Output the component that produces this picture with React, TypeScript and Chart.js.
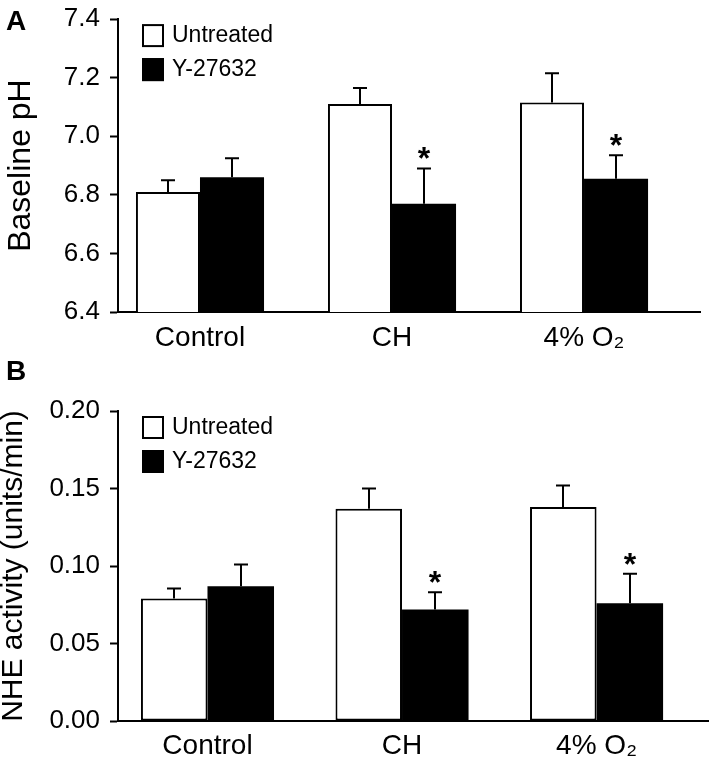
import React, { useEffect, useRef } from "react";
import { Chart, registerables } from "chart.js";

Chart.register(...registerables);

// ---------- data ----------
const categories = ["Control", "CH", "4% O\u2082"];
const seriesLabels = ["Untreated", "Y-27632"];

const phUntreated = [6.81, 7.11, 7.115];
const phUntreatedErr = [0.04, 0.055, 0.1];
const phY27632 = [6.86, 6.77, 6.855];
const phY27632Err = [0.065, 0.12, 0.08];
const phSignificant = [false, true, true];

const nheUntreated = [0.079, 0.137, 0.138];
const nheUntreatedErr = [0.0065, 0.013, 0.014];
const nheY27632 = [0.087, 0.072, 0.076];
const nheY27632Err = [0.014, 0.011, 0.019];
const nheSignificant = [false, true, true];

const FONT = "'Liberation Sans', Arial, Helvetica, sans-serif";

type PanelParams = {
  letter: string;
  untreated: number[];
  untreatedErr: number[];
  treated: number[];
  treatedErr: number[];
  significant: boolean[];
  yMin: number;
  yMax: number;
  yStep: number;
  decimals: number;
  yTitle: string;
  yTitleSize: number;
  yTitleLineHeight: number;
  yTitlePad: number;
  xMin: number;
  xMax: number;
  catPct: number;
  xHeight: number;
  xPad: number;
  padTop: number;
  padRight: number;
};

function makePlugin(p: PanelParams) {
  return {
    id: "panelDecor" + p.letter,
    afterDatasetsDraw(chart: any) {
      const ctx: CanvasRenderingContext2D = chart.ctx;
      const yScale = chart.scales.y;
      const errs = [p.untreatedErr, p.treatedErr];
      ctx.save();
      ctx.strokeStyle = "#000";
      ctx.fillStyle = "#000";
      ctx.lineWidth = 2;
      errs.forEach((errArr, di) => {
        const meta = chart.getDatasetMeta(di);
        const vals = chart.data.datasets[di].data as any[];
        meta.data.forEach((bar: any, i: number) => {
          const v = vals[i].y;
          const top = yScale.getPixelForValue(v + errArr[i]);
          const x = Math.round(bar.x);
          ctx.beginPath();
          ctx.moveTo(x, bar.y);
          ctx.lineTo(x, top);
          ctx.moveTo(x - 7, top);
          ctx.lineTo(x + 7, top);
          ctx.stroke();
          if (di === 1 && p.significant[i]) {
            ctx.font = `bold 32px ${FONT}`;
            ctx.textAlign = "center";
            ctx.textBaseline = "alphabetic";
            ctx.fillText("*", x, top + 1);
          }
        });
      });

      // legend inside chart area
      const area = chart.chartArea;
      const bx = area.left + 24;
      let by = area.top + 5;
      chart.data.datasets.forEach((ds: any) => {
        ctx.fillStyle = ds.backgroundColor;
        ctx.fillRect(bx, by, 22, 23);
        ctx.strokeStyle = "#000";
        ctx.lineWidth = 2;
        ctx.strokeRect(bx + 1, by + 1, 20, 21);
        ctx.fillStyle = "#000";
        ctx.font = `23px ${FONT}`;
        ctx.textAlign = "left";
        ctx.textBaseline = "middle";
        ctx.fillText(ds.label, bx + 30, by + 12);
        by += 34;
      });

      // panel letter
      ctx.fillStyle = "#000";
      ctx.font = `bold 28px ${FONT}`;
      ctx.textAlign = "left";
      ctx.textBaseline = "alphabetic";
      ctx.fillText(p.letter, 6, 30);
      ctx.restore();
    },
  };
}

function buildConfig(p: PanelParams): any {
  const toPts = (arr: number[]) => arr.map((v, i) => ({ x: i + 1, y: v }));
  return {
    type: "bar",
    data: {
      datasets: [
        {
          label: seriesLabels[0],
          data: toPts(p.untreated),
          backgroundColor: "#ffffff",
          borderColor: "#000000",
          borderWidth: 2,
          borderSkipped: false,
        },
        {
          label: seriesLabels[1],
          data: toPts(p.treated),
          backgroundColor: "#000000",
          borderColor: "#000000",
          borderWidth: 0,
        },
      ],
    },
    options: {
      animation: false,
      responsive: false,
      devicePixelRatio: 1,
      events: [],
      layout: { padding: { top: p.padTop, right: p.padRight, left: 0, bottom: 0 } },
      datasets: {
        bar: { barPercentage: 1, categoryPercentage: p.catPct },
      },
      plugins: {
        legend: { display: false },
        tooltip: { enabled: false },
      },
      scales: {
        x: {
          type: "linear",
          offset: false,
          min: p.xMin,
          max: p.xMax,
          grid: { display: false, drawTicks: false },
          border: { display: true, color: "#000", width: 2 },
          ticks: {
            stepSize: 1,
            includeBounds: false,
            autoSkip: false,
            maxRotation: 0,
            padding: p.xPad,
            color: "#000",
            font: { family: FONT, size: 28 },
            callback: (v: number) => (Number.isInteger(v) ? categories[v - 1] ?? "" : ""),
          },
          afterFit: (s: any) => {
            s.height = p.xHeight;
          },
        },
        y: {
          min: p.yMin,
          max: p.yMax,
          grid: {
            display: true,
            drawOnChartArea: false,
            drawTicks: true,
            tickLength: 8,
            tickWidth: 2,
            tickColor: "#000",
            color: "#000",
          },
          border: { display: true, color: "#000", width: 2 },
          ticks: {
            stepSize: p.yStep,
            padding: 10,
            color: "#000",
            font: { family: FONT, size: 26, lineHeight: 0.7 },
            callback: (v: number) => Number(v).toFixed(p.decimals),
          },
          title: {
            display: true,
            text: p.yTitle,
            color: "#000",
            font: { family: FONT, size: p.yTitleSize, lineHeight: p.yTitleLineHeight },
            padding: { top: p.yTitlePad, bottom: 0 },
          },
          afterFit: (s: any) => {
            s.width = 118;
          },
        },
      },
    },
    plugins: [makePlugin(p)],
  };
}

const panelA: PanelParams = {
  letter: "A",
  untreated: phUntreated,
  untreatedErr: phUntreatedErr,
  treated: phY27632,
  treatedErr: phY27632Err,
  significant: phSignificant,
  yMin: 6.4,
  yMax: 7.4,
  yStep: 0.2,
  decimals: 1,
  yTitle: "Baseline pH",
  yTitleSize: 32,
  yTitleLineHeight: 1.2,
  yTitlePad: 2,
  xMin: 0.573,
  xMax: 3.604,
  catPct: 0.667,
  xHeight: 38,
  xPad: 9,
  padTop: 10,
  padRight: 9,
};

const panelB: PanelParams = {
  letter: "B",
  untreated: nheUntreated,
  untreatedErr: nheUntreatedErr,
  treated: nheY27632,
  treatedErr: nheY27632Err,
  significant: nheSignificant,
  yMin: 0,
  yMax: 0.2,
  yStep: 0.05,
  decimals: 2,
  yTitle: "NHE activity (units/min)",
  yTitleSize: 30,
  yTitleLineHeight: 0.9,
  yTitlePad: 0,
  xMin: 0.54,
  xMax: 3.578,
  catPct: 0.684,
  xHeight: 41,
  xPad: 8,
  padTop: 61,
  padRight: 0,
};

export default function App() {
  const refA = useRef<HTMLCanvasElement>(null);
  const refB = useRef<HTMLCanvasElement>(null);

  useEffect(() => {
    Chart.defaults.color = "#000";
    Chart.defaults.font.family = FONT;
    const a = new Chart(refA.current as HTMLCanvasElement, buildConfig(panelA));
    const b = new Chart(refB.current as HTMLCanvasElement, buildConfig(panelB));
    return () => {
      a.destroy();
      b.destroy();
    };
  }, []);

  return (
    <div style={{ position: "absolute", left: 0, top: 0, width: 709, height: 762, background: "#fff" }}>
      <canvas
        ref={refA}
        width={709}
        height={350}
        style={{ position: "absolute", left: 0, top: 0, width: 709, height: 350 }}
      />
      <canvas
        ref={refB}
        width={709}
        height={412}
        style={{ position: "absolute", left: 0, top: 350, width: 709, height: 412 }}
      />
    </div>
  );
}
